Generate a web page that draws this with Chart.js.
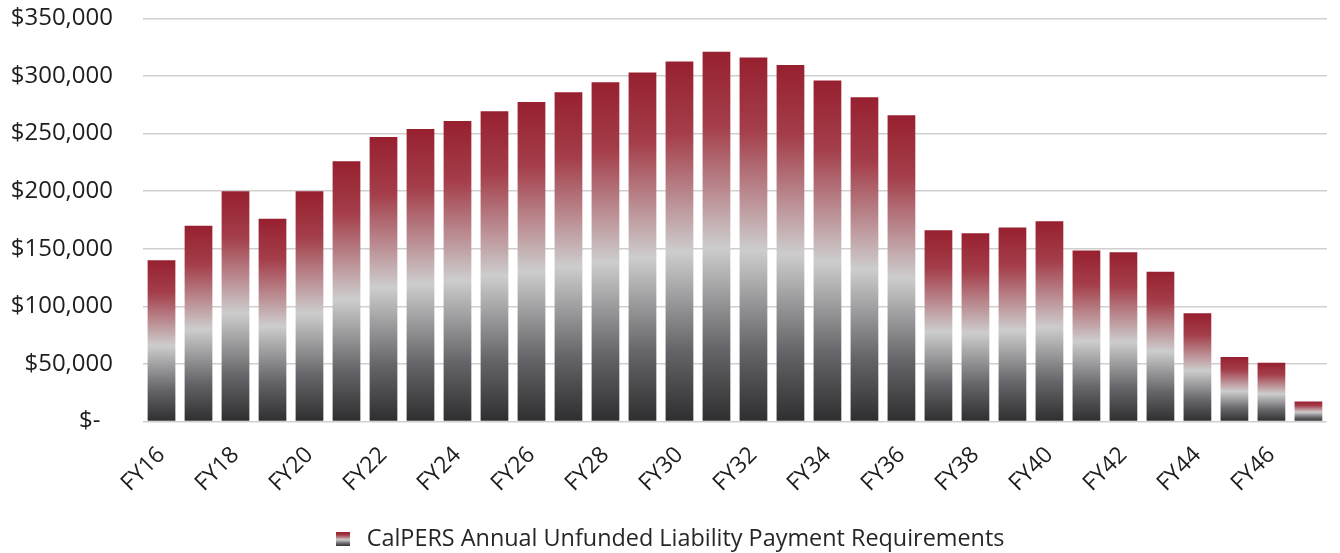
<!DOCTYPE html>
<html>
<head>
<meta charset="utf-8">
<title>CalPERS Unfunded Liability Payments</title>
<style>
body { margin: 0; background: #ffffff; }
#wrap { width: 1340px; height: 553px; }
</style>
</head>
<body>
<div id="wrap"><canvas id="chart"></canvas></div>
<script src="https://cdn.jsdelivr.net/npm/chart.js@4/dist/chart.umd.min.js"></script>
<script>
// fiscal years shown on the x axis
var years = ["FY16","FY17","FY18","FY19","FY20","FY21","FY22","FY23","FY24","FY25",
	"FY26","FY27","FY28","FY29","FY30","FY31","FY32","FY33","FY34","FY35",
	"FY36","FY37","FY38","FY39","FY40","FY41","FY42","FY43","FY44","FY45",
	"FY46","FY47"];
// payment requirement per year (dollars)
var payments = [140000,170000,200000,176000,200000,226000,247000,254000,261000,269500,
	277500,286000,294500,303000,312500,321000,316000,309500,296000,281500,
	266000,166000,163500,168500,174000,148500,147000,130000,94000,56000,
	51000,17500];
var yTicks = [0,50000,100000,150000,200000,250000,300000,350000];
var seriesName = "CalPERS Annual Unfunded Liability Payment Requirements";

var fontFam = "'Open Sans', 'DejaVu Sans', sans-serif";

function addStops(g) {
	g.addColorStop(0, "#97202f");
	g.addColorStop(0.2, "#a43e4a");
	g.addColorStop(0.53, "#cdcdcd");
	g.addColorStop(0.8, "#66666a");
	g.addColorStop(1, "#2e2e30");
	return g;
}

// small swatch for the legend
var swatch = document.createElement("canvas");
swatch.width = 14; swatch.height = 14;
(function() {
	var c = swatch.getContext("2d");
	c.fillStyle = addStops(c.createLinearGradient(0, 0, 0, 14));
	c.fillRect(0, 0, 14, 14);
})();

function barFill(ctx) {
	var chart = ctx.chart;
	if (!chart.chartArea || ctx.raw === undefined) return "#97202f";
	var ys = chart.scales.y;
	var top = ys.getPixelForValue(ctx.raw);
	var base = ys.getPixelForValue(0);
	if (!isFinite(top) || !isFinite(base) || base - top < 1) return "#97202f";
	return addStops(chart.ctx.createLinearGradient(0, top, 0, base));
}

var myChart = new Chart(document.getElementById("chart"), {
	type: "bar",
	data: {
		labels: years,
		datasets: [{
			label: seriesName,
			data: payments,
			backgroundColor: barFill,
			borderWidth: 0,
			categoryPercentage: 1.0,
			barPercentage: 0.75
		}]
	},
	options: {
		responsive: true,
		maintainAspectRatio: false,
		animation: false,
		layout: { padding: { top: 0, right: 4, left: 0, bottom: -8 } },
		plugins: {
			tooltip: { enabled: false },
			legend: {
				position: "bottom",
				labels: {
					usePointStyle: true,
					color: "#262626",
					font: { family: fontFam, size: 23.4 },
					padding: 2,
					generateLabels: function(chart) {
						return [{
							text: seriesName,
							pointStyle: swatch,
							fillStyle: "#97202f",
							strokeStyle: "rgba(0,0,0,0)",
							lineWidth: 0,
							fontColor: "#262626",
							datasetIndex: 0,
							hidden: false
						}];
					}
				}
			}
		},
		scales: {
			x: {
				grid: { display: false },
				border: { display: false },
				afterFit: function(axis) { axis.height = 104; },
				ticks: {
					autoSkip: false,
					minRotation: 45,
					maxRotation: 45,
					padding: 12,
					color: "#1e1e1e",
					font: { family: fontFam, size: 23 },
					callback: function(val, i) {
						return i % 2 === 0 ? years[i] : "";
					}
				}
			},
			y: {
				min: 0,
				max: 350000,
				afterBuildTicks: function(axis) {
					axis.ticks = yTicks.map(function(v) { return { value: v }; });
				},
				afterFit: function(axis) { axis.width = 143; },
				grid: { color: "#cfcfcf", lineWidth: 1.5, drawTicks: true, tickLength: 26, tickColor: "rgba(0,0,0,0)" },
				border: { display: false },
				ticks: {
					padding: 4,
					color: "#1e1e1e",
					font: { family: fontFam, size: 24 },
					callback: function(v) {
						if (v === 0) return "$-  ";
						return "$" + v.toLocaleString("en-US");
					}
				}
			}
		}
	}
});
</script>
</body>
</html>
